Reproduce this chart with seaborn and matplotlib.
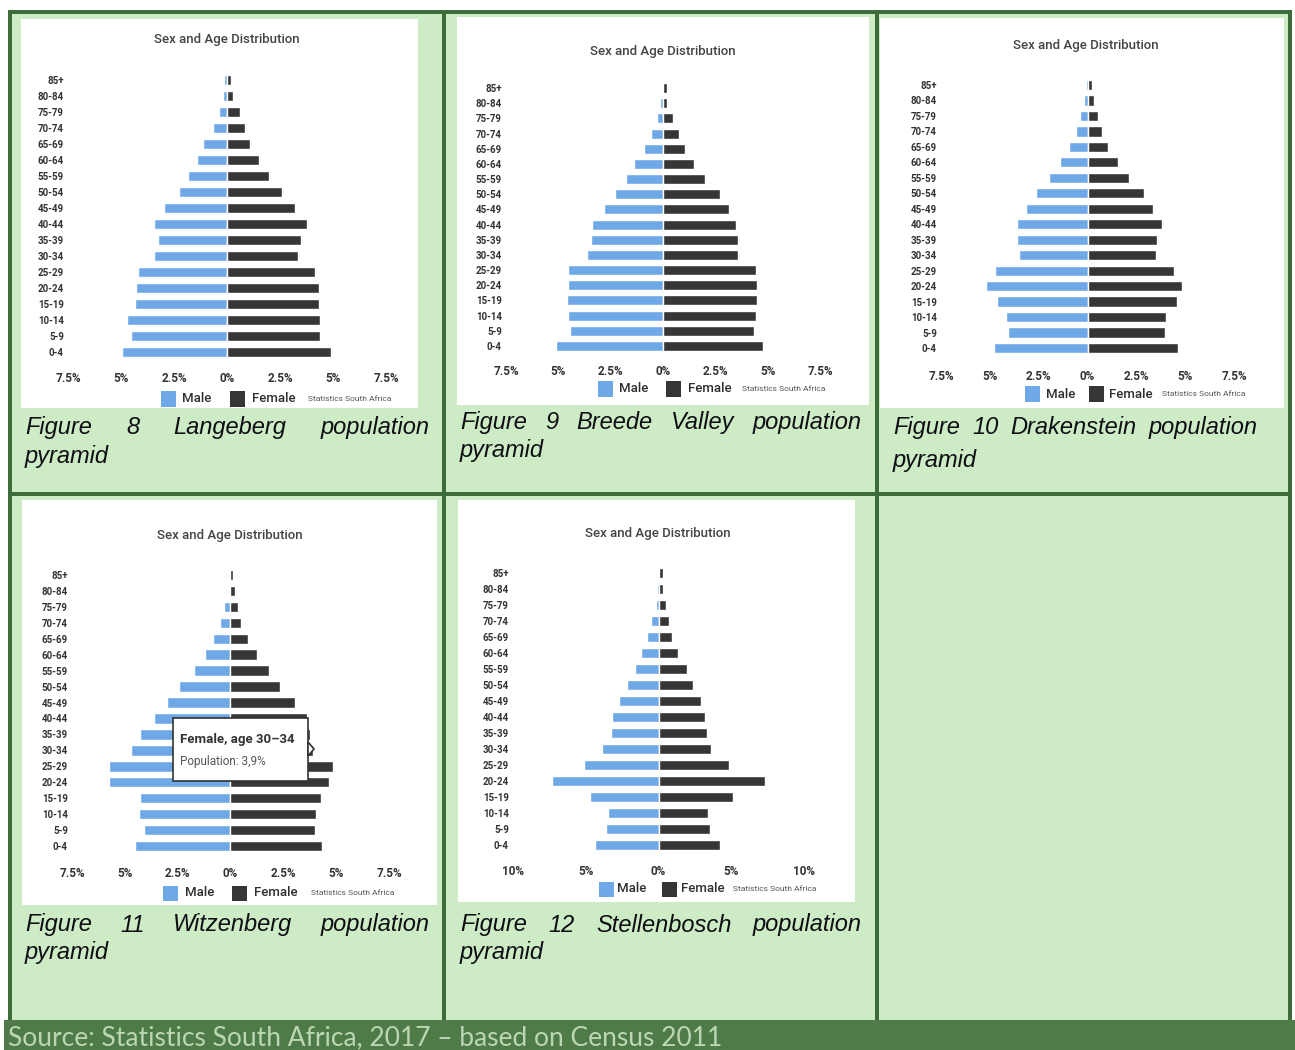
import numpy as np
import pandas as pd
import seaborn as sns
import matplotlib.pyplot as plt
from matplotlib.patches import Rectangle, Polygon

W, H = 1295, 1050

sns.set_theme(style="white")
plt.rcParams['font.family'] = ['Roboto', 'DejaVu Sans']

# Age groups, oldest at the top of each pyramid
AGE_GROUPS = ["85+", "80-84", "75-79", "70-74", "65-69", "60-64", "55-59",
              "50-54", "45-49", "40-44", "35-39", "30-34", "25-29", "20-24",
              "15-19", "10-14", "5-9", "0-4"]

# Share of total population (%) per age group
langeberg_male = [0.15, 0.2, 0.4, 0.65, 1.15, 1.4, 1.85, 2.25, 2.95, 3.45,
                  3.25, 3.45, 4.2, 4.3, 4.35, 4.7, 4.55, 4.95]
langeberg_female = [0.2, 0.3, 0.6, 0.85, 1.1, 1.5, 2.0, 2.6, 3.2, 3.75,
                    3.5, 3.35, 4.15, 4.35, 4.35, 4.4, 4.4, 4.9]

breede_male = [0.05, 0.15, 0.3, 0.55, 0.9, 1.4, 1.75, 2.3, 2.8, 3.4,
               3.45, 3.65, 4.55, 4.55, 4.6, 4.55, 4.45, 5.1]
breede_female = [0.2, 0.2, 0.5, 0.75, 1.05, 1.5, 2.0, 2.7, 3.15, 3.5,
                 3.6, 3.6, 4.45, 4.5, 4.5, 4.45, 4.35, 4.8]

drakenstein_male = [0.1, 0.2, 0.4, 0.6, 0.95, 1.4, 1.95, 2.65, 3.15, 3.6,
                    3.6, 3.5, 4.75, 5.2, 4.65, 4.15, 4.05, 4.8]
drakenstein_female = [0.25, 0.35, 0.55, 0.75, 1.05, 1.55, 2.15, 2.9, 3.35, 3.8,
                      3.55, 3.5, 4.45, 4.85, 4.6, 4.0, 3.95, 4.65]

witzenberg_male = [0.05, 0.05, 0.3, 0.5, 0.85, 1.2, 1.75, 2.45, 3.0, 3.6,
                   4.3, 4.7, 5.75, 5.75, 4.3, 4.35, 4.1, 4.5]
witzenberg_female = [0.1, 0.2, 0.35, 0.5, 0.85, 1.25, 1.8, 2.35, 3.05, 3.6,
                     3.75, 3.9, 4.85, 4.65, 4.3, 4.05, 4.0, 4.35]

stellenbosch_male = [0.05, 0.1, 0.15, 0.5, 0.8, 1.2, 1.6, 2.15, 2.7, 3.2,
                     3.25, 3.85, 5.1, 7.3, 4.7, 3.45, 3.6, 4.35]
stellenbosch_female = [0.3, 0.3, 0.5, 0.7, 0.9, 1.35, 1.95, 2.35, 2.9, 3.2,
                       3.3, 3.6, 4.85, 7.35, 5.15, 3.4, 3.55, 4.25]

MUNICIPALITIES = ["Langeberg", "Breede Valley", "Drakenstein", "Witzenberg", "Stellenbosch"]
FIGURE_NUMBERS = ["8", "9", "10", "11", "12"]
AXIS_LIMITS = [7.5, 7.5, 7.5, 7.5, 10]
TICK_STEPS = [2.5, 2.5, 2.5, 2.5, 5]

BLUE = "#6fa8e6"
DARK = "#363636"
BORDER = "#3d6b3a"
CELL = "#cdebc4"
FOOT = "#4f7b49"


def fx(x):
    return x / W


def fy(y):
    return 1 - y / H


fig = plt.figure(figsize=(W / 100, H / 100), dpi=100)
fig.patch.set_facecolor("white")


def rect(x0, y0, x1, y1, color, z=-10, **kw):
    fig.patches.append(Rectangle((fx(x0), fy(y1)), fx(x1) - fx(x0), fy(y0) - fy(y1),
                                 transform=fig.transFigure, facecolor=color,
                                 edgecolor="none", zorder=z, **kw))


# Table background and borders
rect(8, 10, 1292, 1022, CELL)
rect(8, 10, 1292, 14, BORDER, z=-8)
rect(8, 10, 12, 1022, BORDER, z=-8)
rect(442, 10, 446, 1022, BORDER, z=-8)
rect(875, 10, 879, 1022, BORDER, z=-8)
rect(1288, 10, 1292, 1022, BORDER, z=-8)
rect(8, 492, 1292, 496, BORDER, z=-8)
rect(4, 1020, 1295, 1050, FOOT, z=-8)

# White chart panels
panels = [(21, 19, 418, 408), (457, 17, 869, 405), (880, 18, 1284, 408),
          (22, 500, 437, 905), (458, 500, 855, 902)]
for p in panels:
    rect(*p, "white", z=-6)

# Per-chart layout in pixels
layouts = [
    dict(x0=68, x1=386, ytop=80, ybot=352, title=(227, 40), tick_y=378,
         leg=(161, 182, 230, 252, 308, 399)),
    dict(x0=506, x1=820, ytop=88, ybot=346, title=(663, 52), tick_y=371,
         leg=(598, 619, 666, 688, 742, 389)),
    dict(x0=941, x1=1234, ytop=85, ybot=348, title=(1086, 46), tick_y=376,
         leg=(1025, 1046, 1089, 1109, 1162, 394)),
    dict(x0=72, x1=389, ytop=575, ybot=846, title=(230, 536), tick_y=873,
         leg=(163, 185, 232, 254, 311, 893)),
    dict(x0=513, x1=804, ytop=573, ybot=845, title=(658, 533), tick_y=871,
         leg=(599, 617, 662, 681, 733, 889)),
]

data_sets = [
    (langeberg_male, langeberg_female),
    (breede_male, breede_female),
    (drakenstein_male, drakenstein_female),
    (witzenberg_male, witzenberg_female),
    (stellenbosch_male, stellenbosch_female),
]

for (male, female), lim, step, L in zip(data_sets, AXIS_LIMITS, TICK_STEPS, layouts):
    df = pd.DataFrame({
        "age": AGE_GROUPS * 2,
        "sex": ["Male"] * len(AGE_GROUPS) + ["Female"] * len(AGE_GROUPS),
        "value": [-v for v in male] + list(female),
    })
    sp = (L["ybot"] - L["ytop"]) / (len(AGE_GROUPS) - 1)
    top = L["ytop"] - sp / 2
    bot = L["ybot"] + sp / 2
    ax = fig.add_axes([fx(L["x0"]), fy(bot), fx(L["x1"]) - fx(L["x0"]), fy(top) - fy(bot)])
    ax.set_facecolor("none")
    sns.barplot(data=df, x="value", y="age", hue="sex", order=AGE_GROUPS,
                hue_order=["Male", "Female"], palette={"Male": BLUE, "Female": DARK},
                dodge=False, width=0.66, orient="h", saturation=1, errorbar=None,
                legend=False, ax=ax)
    ax.set_xlim(-lim, lim)
    ticks = np.arange(-lim, lim + 1e-9, step)
    ax.set_xticks(ticks)
    ax.set_xticklabels([f"{abs(t):g}%" for t in ticks], fontsize=8.5, fontweight="bold",
                       color="#333333")
    ax.set_yticks(range(len(AGE_GROUPS)))
    ax.set_yticklabels(AGE_GROUPS, fontsize=7, fontweight="bold", color="#333333")
    pad_px = L["tick_y"] - bot - 6
    ax.tick_params(axis="x", length=0, pad=pad_px * 0.72)
    ax.tick_params(axis="y", length=0, pad=3)
    ax.set_xlabel("")
    ax.set_ylabel("")
    for s in ax.spines.values():
        s.set_visible(False)

    tx, ty = L["title"]
    fig.text(fx(tx), fy(ty), "Sex and Age Distribution", ha="center", va="center",
             fontsize=9.5, color="#444444", fontweight="medium")

    s1, t1, s2, t2, st, ly = L["leg"]
    sq = 15
    rect(s1, ly - sq / 2, s1 + sq, ly + sq / 2, BLUE, z=2)
    fig.text(fx(t1), fy(ly), "Male", ha="left", va="center", fontsize=9.5,
             color="#2e2e2e", fontweight="medium")
    rect(s2, ly - sq / 2, s2 + sq, ly + sq / 2, DARK, z=2)
    fig.text(fx(t2), fy(ly), "Female", ha="left", va="center", fontsize=9.5,
             color="#2e2e2e", fontweight="medium")
    fig.text(fx(st), fy(ly), "Statistics South Africa", ha="left", va="center",
             fontsize=6, color="#555555")

# Hover label on the Witzenberg chart
tip_value = witzenberg_female[AGE_GROUPS.index("30-34")]
fig.patches.append(Rectangle((fx(173), fy(781)), fx(308) - fx(173), fy(718) - fy(781),
                             transform=fig.transFigure, facecolor="white",
                             edgecolor="#333333", linewidth=1.2, zorder=5))
fig.patches.append(Polygon([(fx(308), fy(742)), (fx(314), fy(749)), (fx(308), fy(756))],
                           closed=True, transform=fig.transFigure, facecolor="white",
                           edgecolor="#333333", linewidth=1.2, zorder=5))
fig.text(fx(180), fy(740), "Female, age 30–34", ha="left", va="center", fontsize=9.5,
         fontweight="bold", color="#333333", zorder=6)
fig.text(fx(180), fy(761), f"Population: {tip_value:.1f}%".replace(".", ","), ha="left",
         va="center", fontsize=8.5, color="#555555", zorder=6)

# Figure captions, justified across each cell
renderer = fig.canvas.get_renderer()
cap_kw = dict(fontsize=17, fontstyle="italic", color="#0e0e14",
              family=["Liberation Sans", "DejaVu Sans"], va="center", ha="left")


def justified(words, xl, xr, y):
    texts = [fig.text(0, 0, w, **cap_kw) for w in words]
    widths = [t.get_window_extent(renderer).width for t in texts]
    gap = max((xr - xl - sum(widths)) / (len(words) - 1), 6)
    x = xl
    for t, w in zip(texts, widths):
        t.set_position((fx(x), fy(y)))
        x += w + gap


caption_boxes = [(25, 430, 428, 457), (460, 862, 422, 451), (893, 1258, 428, 461),
                 (25, 430, 925, 953), (460, 862, 925, 953)]
for name, num, (xl, xr, y1, y2) in zip(MUNICIPALITIES, FIGURE_NUMBERS, caption_boxes):
    justified(["Figure", num] + name.split() + ["population"], xl, xr, y1)
    fig.text(fx(xl), fy(y2), "pyramid", **cap_kw)

fig.text(fx(8), fy(1038), "Source: Statistics South Africa, 2017 – based on Census 2011",
         ha="left", va="center", fontsize=19, color="#bcd6b4",
         family=["Lato", "DejaVu Sans"])

fig.savefig("out.png", dpi=100)
